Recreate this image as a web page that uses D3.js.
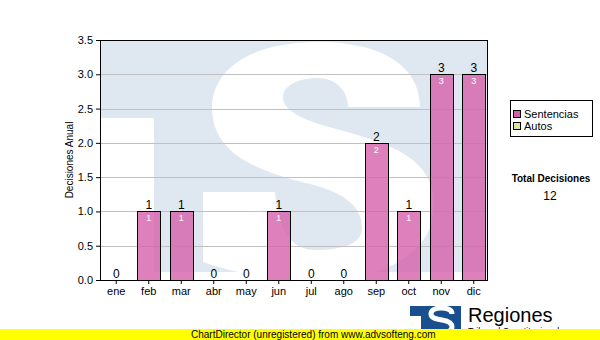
<!DOCTYPE html>
<html>
<head>
<meta charset="utf-8">
<script src="https://cdn.jsdelivr.net/npm/d3@7"></script>
<style>
  body { margin: 0; background: #fff; }
  text { font-family: "Liberation Sans", Arial, sans-serif; }
</style>
</head>
<body>
<script>
// datos del grafico
const meses = ["ene", "feb", "mar", "abr", "may", "jun", "jul", "ago", "sep", "oct", "nov", "dic"]
const sentencias = [0, 1, 1, 0, 0, 1, 0, 0, 2, 1, 3, 3]
const autos = [0, 0, 0, 0, 0, 0, 0, 0, 0, 0, 0, 0]
const yTicks = [0, 0.5, 1, 1.5, 2, 2.5, 3, 3.5]
const series = ["Sentencias", "Autos"]
const colores = ["#d460ab", "#d6e8a0"]
const totalLabel = "Total Decisiones"

const W = 600, H = 340
const pLeft = 100, pRight = 487, pTop = 40, pBottom = 280

const svg = d3.select("body").append("svg").attr("width", W).attr("height", H)

const x = d3.scaleBand().domain(meses).range([pLeft, pLeft + 390]).paddingInner(0.28).paddingOuter(0.14)
const y = d3.scaleLinear().domain([0, 3.5]).range([pBottom, pTop])

// marca de agua
svg.append("clipPath").attr("id", "clipwm").append("rect")
  .attr("x", pLeft).attr("y", pTop).attr("width", pRight - pLeft).attr("height", 232)
const wm = svg.append("g").attr("clip-path", "url(#clipwm)")
wm.append("rect").attr("x", pLeft).attr("y", pTop).attr("width", pRight - pLeft).attr("height", 232).attr("fill", "#dfe8f1")
wm.append("rect").attr("x", pLeft).attr("y", 118).attr("width", 54).attr("height", 160).attr("fill", "#fff")
wm.append("path").attr("fill", "#fff")
  .attr("d", "M420 107 C420 65,380 42,318 42 C250 42,212 70,212 108 C212 150,250 170,310 184 " +
    "C350 194,362 210,362 228 C362 245,340 250,315 250 C295 250,278 235,275 192 L203 192 L203 262 " +
    "C230 272,270 280,315 280 C390 280,434 250,434 205 C434 160,395 145,340 130 C300 120,283 110,283 97 " +
    "C283 85,300 78,318 78 C335 78,348 90,348 107 Z")

// rejilla
svg.selectAll("line.grid").data(yTicks.filter(d => d > 0 && d < 3.5)).enter().append("line")
  .attr("class", "grid")
  .attr("x1", pLeft).attr("x2", pRight).attr("y1", d => Math.round(y(d)) + 0.5).attr("y2", d => Math.round(y(d)) + 0.5)
  .attr("stroke", "#c0c0c0").attr("stroke-width", 1)

// barras
const total = sentencias.map((d, i) => d + autos[i])
const bw = x.bandwidth()
meses.forEach((m, i) => {
  if (sentencias[i] > 0) {
    svg.append("rect").attr("class", "bar")
      .attr("x", Math.round(x(m)) + 0.5).attr("y", Math.round(y(sentencias[i])) + 0.5)
      .attr("width", Math.round(bw)).attr("height", Math.round(y(0)) - Math.round(y(sentencias[i])))
      .attr("fill", colores[0]).attr("fill-opacity", 0.8)
      .attr("stroke", "#000").attr("stroke-width", 1)
    svg.append("text").attr("x", x(m) + bw / 2).attr("y", y(sentencias[i]) + 10)
      .attr("text-anchor", "middle").attr("font-size", 9).attr("fill", "#fff").text(sentencias[i])
  }
  svg.append("text").attr("x", x(m) + bw / 2).attr("y", y(total[i]) - 2)
    .attr("text-anchor", "middle").attr("font-size", 12).attr("fill", "#000").text(total[i])
})

// marco
svg.append("rect").attr("x", pLeft + 0.5).attr("y", pTop + 0.5).attr("width", pRight - pLeft).attr("height", pBottom - pTop)
  .attr("fill", "none").attr("stroke", "#000")

// ejes
const yAxis = svg.append("g").attr("transform", `translate(${pLeft},0)`)
  .call(d3.axisLeft(y).tickValues(yTicks).tickFormat(d3.format(".1f")).tickSize(4).tickPadding(3))
const xAxis = svg.append("g").attr("transform", `translate(0,${pBottom})`)
  .call(d3.axisBottom(x).tickSize(4).tickPadding(3))
;[yAxis, xAxis].forEach(a => {
  a.select(".domain").remove()
  a.selectAll("text").attr("font-size", 11).attr("fill", "#000").attr("font-family", "Liberation Sans, Arial, sans-serif")
})

svg.append("text").attr("transform", "translate(73,160) rotate(-90)")
  .attr("text-anchor", "middle").attr("font-size", 10).text("Decisiones Anual")

// leyenda
const lg = svg.append("g")
lg.append("rect").attr("x", 510.5).attr("y", 100.5).attr("width", 82).attr("height", 36)
  .attr("fill", "#fff").attr("stroke", "#000")
series.forEach((s, i) => {
  lg.append("rect").attr("x", 513.5).attr("y", 110.5 + i * 12).attr("width", 7).attr("height", 7)
    .attr("fill", colores[i]).attr("stroke", "#000")
  lg.append("text").attr("x", 524).attr("y", 118 + i * 12).attr("font-size", 11).text(s)
})

svg.append("text").attr("x", 551).attr("y", 182).attr("text-anchor", "middle")
  .attr("font-size", 10).attr("font-weight", "bold").text(totalLabel)
svg.append("text").attr("x", 550).attr("y", 200).attr("text-anchor", "middle")
  .attr("font-size", 12).text(d3.sum(total))

// logo
const logo = svg.append("g")
logo.append("rect").attr("x", 410).attr("y", 306).attr("width", 51).attr("height", 26).attr("fill", "#1a4f8f")
logo.append("rect").attr("x", 410).attr("y", 316).attr("width", 11).attr("height", 18).attr("fill", "#fff")
logo.append("path").attr("fill", "none").attr("stroke", "#fff").attr("stroke-width", 5)
  .attr("d", "M452 314 C452 309,446 308,441 308 C434 308,431 311,431 314 C431 318,436 319,442 320 C448 321,452 323,452 327 C452 331,446 333,440 333")
svg.append("text").attr("x", 468).attr("y", 322).attr("font-size", 20).text("Regiones")
svg.append("text").attr("x", 468).attr("y", 334).attr("font-size", 9).text("Tribunal Constitucional")

// banda amarilla
svg.append("rect").attr("x", 0).attr("y", 329).attr("width", W).attr("height", 11).attr("fill", "#ffff00")
svg.append("text").attr("x", 191).attr("y", 338).attr("font-size", 10).text("ChartDirector (unregistered) from www.advsofteng.com")
</script>
</body>
</html>
